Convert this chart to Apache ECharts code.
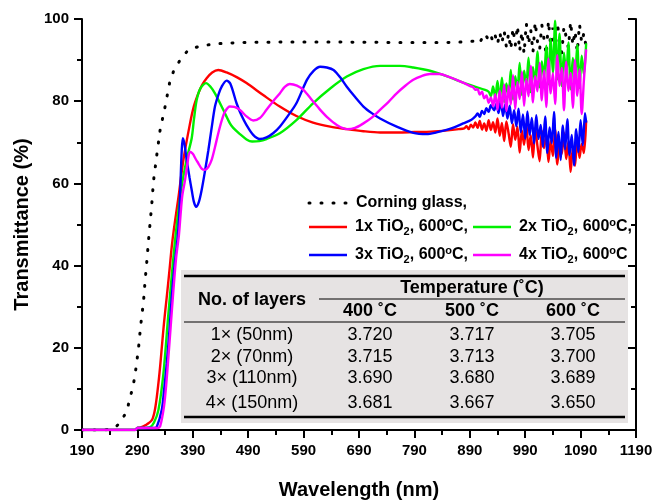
<!DOCTYPE html>
<html>
<head>
<meta charset="utf-8">
<script src="https://cdn.jsdelivr.net/npm/echarts@6/dist/echarts.min.js"></script>
<style>
html,body{margin:0;padding:0;background:#fff;}
#chart{width:655px;height:500px;}
</style>
</head>
<body>
<div id="chart"></div>
<script>
// ---------- DATA ----------
const seriesNames = ['Corning glass', '1x TiO2, 600°C', '2x TiO2, 600°C', '3x TiO2, 600°C', '4x TiO2, 600°C'];

const glassData = [[190,0],[230,0],[245,0.3],[252,0.9],[259,1.8],[265,3.2],[271,4.6],[276,7.5],[282,10.5],[286,13.6],[292,19.9],[296,25.5],[301,31.2],[304,36.5],[307,41],[310,46],[313,50.5],[316,55],[319,60.5],[325,66.9],[331,73],[340,78.7],[348,84.4],[355,87.2],[367,90],[382,92.5],[403,93.4],[427,93.9],[448,94.1],[480,94.3],[550,94.4],[650,94.4],[750,94.3],[850,94.3],[880,94.4],[896,94.6],
[900,94.5],[904,94.8],[908,94.2],[912,95.3],[916,94.6],[920,95.8],[924,94.9],[928,96.1],[932,94.3],[936,95.9],[940,93.8],[944,96.8],[948,94.1],[952,97.2],[956,93.2],[960,96.5],[964,92.6],[968,97.8],[972,93.5],[976,98.4],[980,92.1],[984,96.9],[988,91.5],[992,99.0],[996,93.8],[1000,97.4],[1004,91.8],[1008,99.3],[1012,94.6],[1016,92.4],[1020,98.6],[1024,95.1],[1028,91.2],[1032,99.6],[1036,93.4],[1040,97.9],[1044,92.0],[1048,99.1],[1052,94.8],[1056,91.7],[1060,98.2],[1064,95.6],[1068,92.9],[1072,99.4],[1076,93.6],[1080,97.1],[1084,91.9],[1088,98.8],[1092,94.2],[1096,96.6],[1100,93.1]];

const layer1Data = [[190,0],[286,0],[290,0.5],[295,0.6],[305,1.2],[316,2.4],[321,4.5],[325,8],[330,14],[334,20],[338,26],[343,32.4],[348,39],[352,44.6],[356,49],[364,56.5],[373,65.7],[385,74.6],[392,78.8],[400,81.9],[407,84],[415,85.6],[425,87],[436,87.6],[451,87],[470,85.8],[487,84.4],[517,81.5],[547,78.7],[577,76.4],[607,74.8],[638,73.8],[668,73.2],[698,72.7],[728,72.4],[760,72.4],[790,72.5],[820,72.6],[850,72.9],[870,73.2],
[880,73.4],[884,73.9],[888,73.2],[892,74.3],[896,73.6],[900,74.8],[904,73.5],[908,75.2],[912,73.1],[916,74.6],[920,72.8],[924,75.4],[928,73.0],[932,74.9],[936,72.4],[940,75.8],[944,71.6],[948,74.7],[952,70.3],[956,75.1],[960,72.2],[964,68.9],[968,74.4],[972,70.6],[976,73.8],[980,67.5],[984,72.9],[988,69.4],[992,74.6],[996,68.1],[1000,71.7],[1004,66.3],[1008,73.5],[1012,69.2],[1016,65.4],[1020,72.8],[1024,68.6],[1028,71.9],[1032,65.2],[1036,70.4],[1040,66.7],[1044,73.1],[1048,64.6],[1052,69.8],[1056,67.1],[1060,72.4],[1064,65.9],[1068,70.2],[1072,62.8],[1076,68.7],[1080,64.3],[1084,71.5],[1088,66.2],[1092,69.6],[1096,67.4],[1100,75.3]];

const layer2Data = [[190,0],[286,0],[290,0.5],[300,0.5],[313,0.7],[320,1.8],[328,4.9],[337,13.8],[346,28.4],[355,42],[360,48.7],[366,55.5],[372,61],[380,66.5],[388,71],[392,75.5],[397,80.3],[404,83.2],[414,84.4],[422,83.5],[430,81.9],[445,77.9],[457,74.6],[463,73.5],[475,72],[487,70.7],[497,70.2],[510,70.3],[523,70.8],[547,72.2],[577,75.4],[607,79.5],[638,83.1],[668,86],[698,87.8],[728,88.6],[764,88.6],[788,88.2],[818,87.4],[848,86.1],[878,84.5],[902,83.4],[916,82.8],
[924,82.3],[928,81.2],[932,83.6],[936,80.8],[940,84.9],[944,80.1],[948,85.7],[952,79.8],[956,84.3],[960,81.2],[964,87.6],[968,80.4],[972,86.1],[976,82.8],[980,89.3],[984,81.5],[988,87.4],[992,83.9],[996,90.6],[1000,82.2],[1004,88.3],[1008,84.6],[1012,92.1],[1016,83.4],[1020,89.7],[1024,85.8],[1028,93.5],[1032,84.1],[1036,95.2],[1040,86.9],[1044,99.6],[1048,85.3],[1052,96.4],[1056,83.7],[1060,91.8],[1064,86.2],[1068,94.3],[1072,82.9],[1076,90.5],[1080,85.6],[1084,93.7],[1088,83.2],[1092,91.1],[1096,86.4],[1100,94.1]];

const layer3Data = [[190,0],[286,0],[290,0.5],[320,0.5],[325,0.8],[334,4.9],[338,9.5],[343,16.2],[348,24.5],[352,32.4],[357,40],[362,46],[365,51],[367,57],[370,68],[372,71],[375,69.5],[379,65.7],[384,61.5],[388,58.4],[392,55.5],[396,54.3],[401,55.5],[406,58.4],[412,63],[418,68],[424,73.5],[430,78.7],[436,81.5],[442,83.5],[451,85],[458,84.2],[469,79.5],[478,76.5],[487,74.2],[499,71.8],[511,70.8],[523,71.2],[535,72.2],[547,73.8],[562,76.5],[577,79.5],[596,85.2],[608,87.4],[620,88.4],[632,88.2],[644,87.6],[656,85.8],[668,83.5],[683,81],[698,78.7],[713,77.1],[728,75.8],[758,73.8],[788,72.3],[812,72],[830,72.4],[848,73],[863,73.7],[878,74.6],[893,75.5],
[900,76.3],[904,77.0],[908,76.2],[912,77.6],[916,76.9],[920,78.3],[924,77.4],[928,79.0],[930,78.6],[934,77.8],[938,79.4],[942,77.1],[946,80.2],[950,76.4],[954,79.3],[958,75.8],[962,78.9],[966,74.6],[970,77.8],[974,73.9],[978,78.2],[982,72.5],[986,76.8],[990,70.9],[994,77.5],[998,71.8],[1002,75.9],[1006,69.7],[1010,76.6],[1014,70.8],[1018,74.2],[1022,68.9],[1026,76.3],[1030,67.4],[1034,73.6],[1038,69.8],[1042,77.4],[1046,66.2],[1050,72.5],[1054,65.7],[1058,74.1],[1062,68.3],[1066,75.6],[1070,66.9],[1074,71.8],[1078,64.4],[1082,73.2],[1086,67.6],[1090,75.4],[1094,69.3],[1098,77.1],[1100,74.8]];

const layer4Data = [[190,0],[286,0],[290,0.5],[326,0.5],[331,0.9],[338,5.7],[342,11],[346,17.8],[350,25],[355,34],[360,42],[365,47.5],[368,52.5],[371,57],[376,60.8],[380,64.5],[385,67.7],[390,67.2],[395,66],[400,64.9],[406,63.6],[412,63.3],[418,64],[424,65.7],[430,68.8],[436,72.2],[442,75.2],[448,77.4],[457,78.7],[465,78.6],[475,77.9],[487,76.3],[499,75.3],[511,75.9],[523,77.9],[535,80],[547,81.9],[556,83.5],[565,84.2],[578,83.8],[590,82.7],[605,80.3],[620,77.9],[635,75.8],[650,74.2],[668,73.2],[683,73.5],[698,74.6],[713,76],[728,77.9],[743,79.8],[758,81.9],[773,83.7],[788,85.2],[803,86.1],[818,86.6],[836,86.6],[851,86],[866,85.2],[880,84.4],[892,83.6],
[896,83.4],[900,82.8],[904,82.9],[908,81.6],[912,82.3],[916,80.7],[920,81.4],[924,79.6],[928,80.9],[932,78.8],[936,81.7],[940,77.9],[944,82.6],[948,78.4],[952,84.1],[956,77.6],[960,83.8],[964,79.2],[968,86.3],[972,78.1],[976,84.7],[980,80.5],[984,87.2],[988,78.9],[992,85.4],[996,81.2],[1000,88.6],[1004,79.7],[1008,86.1],[1012,82.4],[1016,89.3],[1020,80.2],[1024,87.5],[1028,78.6],[1032,90.4],[1036,81.9],[1040,86.8],[1044,79.3],[1048,91.2],[1052,83.7],[1056,88.1],[1060,77.8],[1064,89.6],[1068,82.5],[1072,86.9],[1076,78.4],[1080,90.1],[1084,81.3],[1088,87.7],[1092,76.9],[1096,85.2],[1100,92.6]];

// Inset table
const tableHeader = 'No. of layers';
const tempHeader = 'Temperature (˚C)';
const tempLabels = ['400 ˚C', '500 ˚C', '600 ˚C'];
const layerLabels = ['1× (50nm)', '2× (70nm)', '3× (110nm)', '4× (150nm)'];
const values400 = [3.720, 3.715, 3.690, 3.681];
const values500 = [3.717, 3.713, 3.680, 3.667];
const values600 = [3.705, 3.700, 3.689, 3.650];

// ---------- CHART ----------
const FONT = 'Liberation Sans, Arial, sans-serif';
const colors = ['#000000', '#ff0000', '#00f000', '#0000ff', '#ff00ff'];
const seriesData = [glassData, layer1Data, layer2Data, layer3Data, layer4Data];

const chart = echarts.init(document.getElementById('chart'), null, {renderer: 'canvas'});

const series = seriesData.map((d, i) => ({
  name: seriesNames[i],
  type: 'line',
  data: d,
  symbol: 'none',
  smooth: i === 0 ? false : 0.3,
  animation: false,
  z: 2 + i,
  lineStyle: i === 0
    ? {color: '#000', width: 3, type: [1, 11], cap: 'round'}
    : {color: colors[i], width: 2.4}
}));

// legend (drawn as graphics so sub/superscripts and layout match)
const legendText = [
  'Corning glass,',
  '{a|1x TiO}{sub|2}{a|, 600}{sup|o}{a|C,}',
  '{a|2x TiO}{sub|2}{a|, 600}{sup|o}{a|C,}',
  '{a|3x TiO}{sub|2}{a|, 600}{sup|o}{a|C,}',
  '{a|4x TiO}{sub|2}{a|, 600}{sup|o}{a|C}'
];
const legendPos = [[308, 203], [308, 227], [472, 227], [308, 255], [472, 255]];
const richStyle = {
  a: {fontFamily: FONT, fontSize: 16, fontWeight: 'bold', fill: '#000', color: '#000', lineHeight: 20},
  sub: {fontFamily: FONT, fontSize: 11, fontWeight: 'bold', fill: '#000', color: '#000', lineHeight: 12, verticalAlign: 'bottom'},
  sup: {fontFamily: FONT, fontSize: 11, fontWeight: 'bold', fill: '#000', color: '#000', lineHeight: 12, verticalAlign: 'top'}
};

const graphics = [];
seriesNames.forEach((n, i) => {
  const [lx, ly] = legendPos[i];
  graphics.push({
    type: 'line', z: 30,
    shape: {x1: lx + 1, y1: ly, x2: lx + 39, y2: ly},
    style: i === 0
      ? {stroke: '#000', lineWidth: 3, lineDash: [1, 11], lineCap: 'round'}
      : {stroke: colors[i], lineWidth: 2.4}
  });
  const st = {
    text: legendText[i], x: i === 0 ? 467 : lx + 47, y: ly,
    font: 'bold 16px ' + FONT,
    fill: '#000',
    align: i === 0 ? 'right' : 'left', verticalAlign: 'middle',
    textAlign: i === 0 ? 'right' : 'left', textVerticalAlign: 'middle'
  };
  if (i > 0) st.rich = richStyle;
  graphics.push({type: 'text', z: 30, style: st});
});

// table graphics
const TL = 184, TR = 625;
const rowY = [335, 357, 378, 403];
const colX = [252, 370, 472, 573];
function txt(s, x, y, bold) {
  return {
    type: 'text', z: 50,
    style: {
      text: s, x: x, y: y,
      font: (bold ? 'bold ' : '') + '18px ' + FONT,
      fill: '#000',
      align: 'center', verticalAlign: 'middle',
      textAlign: 'center', textVerticalAlign: 'middle'
    }
  };
}
function hline(x1, x2, y, w) {
  return {type: 'line', z: 50, shape: {x1: x1, y1: y, x2: x2, y2: y}, style: {stroke: '#000', lineWidth: w}};
}
graphics.push(
  {type: 'rect', z: 40, shape: {x: 181, y: 270, width: 447, height: 153}, style: {fill: '#e6e3e3'}},
  hline(TL, TR, 276, 2.5),
  hline(319, TR, 299, 1.2),
  hline(TL, TR, 322, 1.2),
  hline(TL, TR, 417, 2.5),
  txt(tableHeader, colX[0], 300, true),
  txt(tempHeader, colX[2], 288, true)
);
tempLabels.forEach((t, j) => graphics.push(txt(t, colX[j + 1], 311, true)));
layerLabels.forEach((l, r) => {
  graphics.push(txt(l, colX[0], rowY[r], false));
  graphics.push(txt(values400[r].toFixed(3), colX[1], rowY[r], false));
  graphics.push(txt(values500[r].toFixed(3), colX[2], rowY[r], false));
  graphics.push(txt(values600[r].toFixed(3), colX[3], rowY[r], false));
});

const axisLabelStyle = {fontFamily: FONT, fontSize: 15, fontWeight: 'bold', color: '#000', formatter: (v) => String(v)};
const axisLineStyle = {show: true, lineStyle: {color: '#000', width: 2}};

const option = {
  backgroundColor: '#fff',
  animation: false,
  grid: {left: 82, right: 19, top: 19, bottom: 70, containLabel: false, outerBoundsMode: 'none'},
  xAxis: [
    {
      type: 'value', min: 190, max: 1190, interval: 100, position: 'bottom',
      name: 'Wavelength (nm)', nameLocation: 'middle', nameGap: 50,
      nameTextStyle: {fontFamily: FONT, fontSize: 20, fontWeight: 'bold', color: '#000'},
      axisLine: axisLineStyle,
      axisTick: {show: true, inside: false, length: 8, lineStyle: {color: '#000', width: 2}},
      minorTick: {show: true, splitNumber: 2, length: 5, lineStyle: {color: '#000', width: 2}},
      axisLabel: Object.assign({margin: 13}, axisLabelStyle),
      splitLine: {show: false}
    },
    {
      type: 'value', min: 190, max: 1190, interval: 100, position: 'top',
      axisLine: axisLineStyle,
      axisTick: {show: true, inside: true, length: 8, lineStyle: {color: '#000', width: 2}},
      minorTick: {show: true, splitNumber: 2, length: 5, lineStyle: {color: '#000', width: 2}},
      axisLabel: {show: false},
      splitLine: {show: false}
    }
  ],
  yAxis: [
    {
      type: 'value', min: 0, max: 100, interval: 20, position: 'left',
      name: 'Transmittance (%)', nameLocation: 'middle', nameGap: 50, nameRotate: 90,
      nameTextStyle: {fontFamily: FONT, fontSize: 20, fontWeight: 'bold', color: '#000'},
      axisLine: axisLineStyle,
      axisTick: {show: true, inside: false, length: 8, lineStyle: {color: '#000', width: 2}},
      minorTick: {show: true, splitNumber: 2, length: 5, lineStyle: {color: '#000', width: 2}},
      axisLabel: Object.assign({margin: 13}, axisLabelStyle),
      splitLine: {show: false}
    },
    {
      type: 'value', min: 0, max: 100, interval: 20, position: 'right',
      axisLine: axisLineStyle,
      axisTick: {show: true, inside: true, length: 8, lineStyle: {color: '#000', width: 2}},
      minorTick: {show: true, splitNumber: 2, length: 5, lineStyle: {color: '#000', width: 2}},
      axisLabel: {show: false},
      splitLine: {show: false}
    }
  ],
  series: series,
  graphic: graphics
};
chart.setOption(option);
</script>
</body>
</html>
